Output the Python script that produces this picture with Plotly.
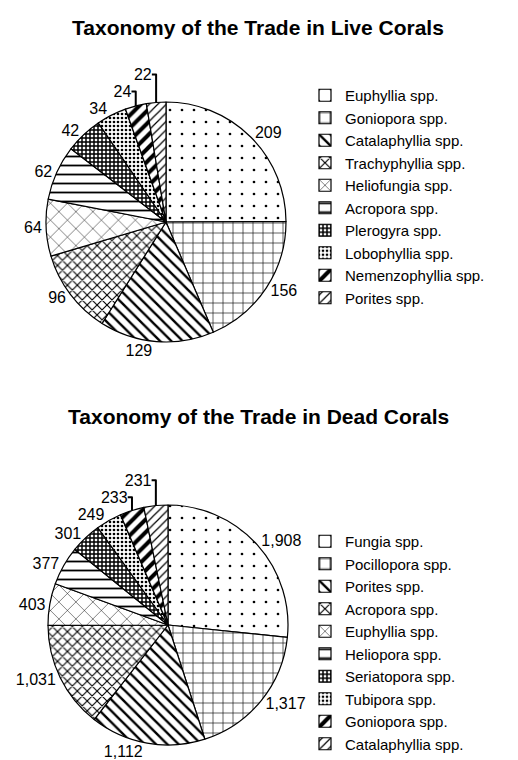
import plotly.graph_objects as go

live_labels = ["Euphyllia spp.", "Goniopora spp.", "Catalaphyllia spp.", "Trachyphyllia spp.",
               "Heliofungia spp.", "Acropora spp.", "Plerogyra spp.", "Lobophyllia spp.",
               "Nemenzophyllia spp.", "Porites spp."]
live_values = [209, 156, 129, 96, 64, 62, 42, 34, 24, 22]

dead_labels = ["Fungia spp.", "Pocillopora spp.", "Porites spp.", "Acropora spp.",
               "Euphyllia spp.", "Heliopora spp.", "Seriatopora spp.", "Tubipora spp.",
               "Goniopora spp.", "Catalaphyllia spp."]
dead_values = [1908, 1317, 1112, 1031, 403, 377, 301, 249, 233, 231]

title_live = "Taxonomy of the Trade in Live Corals"
title_dead = "Taxonomy of the Trade in Dead Corals"

# black & white hatch styles, one per slice position
shapes = [".", "+", "\\", "x", "x", "-", "+", ".", "/", "/"]
sizes = [12, 10, 8, 7, 12, 9, 4, 4, 9, 6]
solid = [0.04, 0.12, 0.3, 0.3, 0.08, 0.2, 0.6, 0.35, 0.45, 0.2]

FONT = "Liberation Sans, Arial, sans-serif"


def pie(labels, values, domain, legend, suffix):
    # suffix keeps the two pies' legend entries separate (pies share same-named labels)
    return go.Pie(
        labels=[s + suffix for s in labels], values=values, sort=False,
        direction="clockwise", rotation=0,
        domain=domain, legend=legend,
        textposition="outside", texttemplate="%{value:,}",
        textfont=dict(family=FONT, size=16, color="black"),
        marker=dict(colors=["white"] * 10,
                    line=dict(color="black", width=1.2),
                    pattern=dict(shape=shapes, size=sizes, solidity=solid,
                                 fgcolor="black", bgcolor="white", fillmode="replace")),
        hoverinfo="label+value",
    )


fig = go.Figure()
fig.add_trace(pie(live_labels, live_values,
                  dict(x=[38 / 518, 278 / 518], y=[1 - 334 / 760, 1 - 94 / 760]), "legend", ""))
fig.add_trace(pie(dead_labels, dead_values,
                  dict(x=[40 / 518, 280 / 518], y=[1 - 737 / 760, 1 - 497 / 760]), "legend2", " "))

legend_common = dict(font=dict(family=FONT, size=15, color="black"), bgcolor="rgba(0,0,0,0)",
                     xanchor="left", yanchor="top", itemwidth=30, tracegroupgap=0)
fig.update_layout(
    width=518, height=760,
    margin=dict(l=0, r=0, t=0, b=0),
    paper_bgcolor="white", plot_bgcolor="white",
    showlegend=True,
    legend=dict(x=297 / 518, y=1 - 71 / 760, **legend_common),
    legend2=dict(x=297 / 518, y=1 - 517 / 760, **legend_common),
    annotations=[
        dict(text="<b>" + title_live + "</b>", x=250 / 518, y=1 - 20 / 760, xref="paper", yref="paper",
             showarrow=False, font=dict(family=FONT, size=21, color="black"), xanchor="center", yanchor="middle"),
        dict(text="<b>" + title_dead + "</b>", x=250 / 518, y=1 - 409 / 760, xref="paper", yref="paper",
             showarrow=False, font=dict(family=FONT, size=21, color="black"), xanchor="center", yanchor="middle"),
    ],
)

fig.write_html("out.html")
